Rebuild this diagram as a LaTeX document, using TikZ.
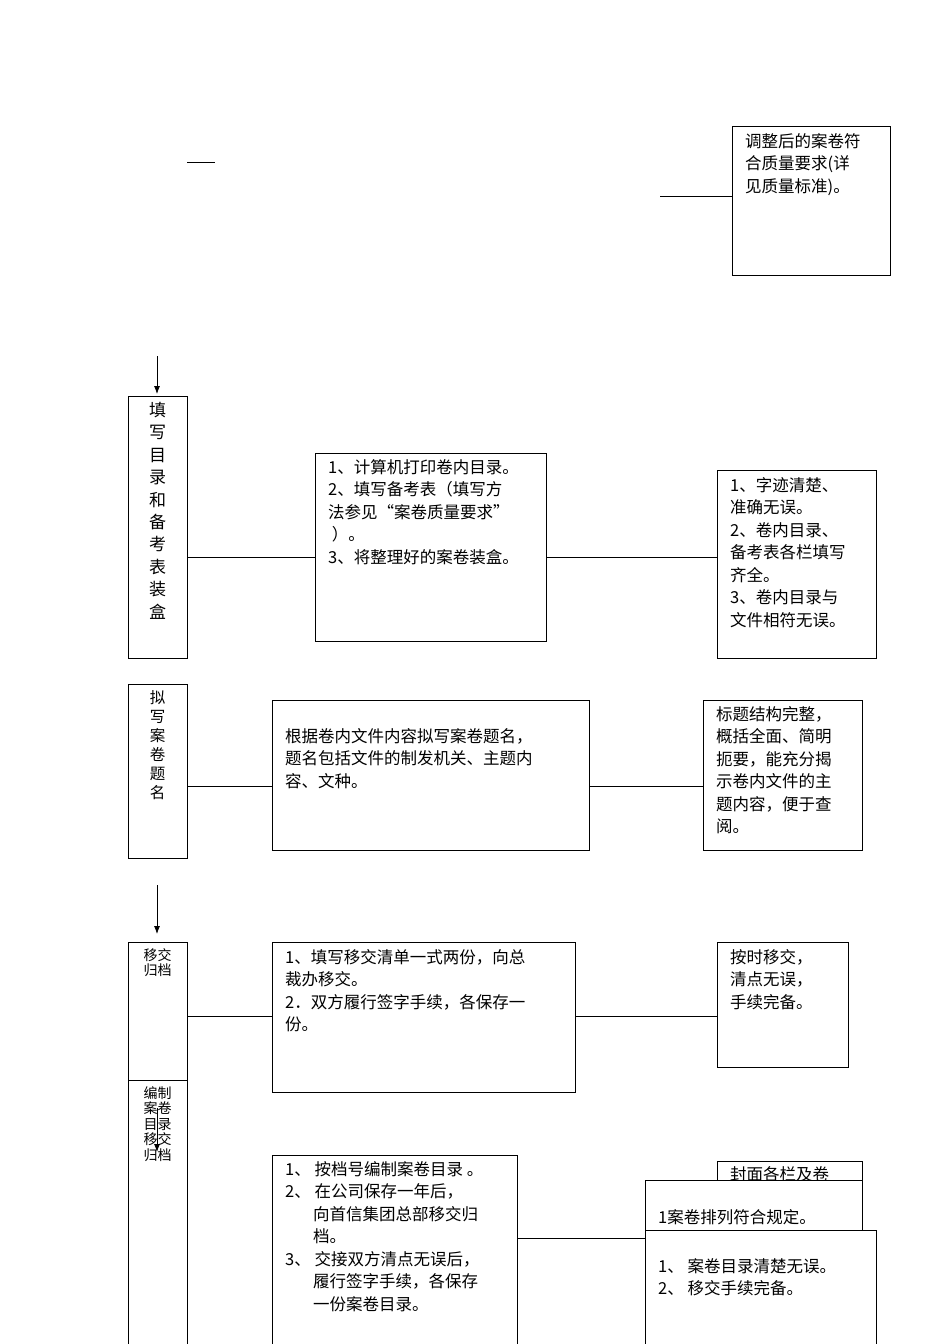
\documentclass[tikz,border=0pt]{standalone}
\usepackage{fontspec}
\newfontfamily\cjk{Noto Sans CJK SC}
\usetikzlibrary{arrows.meta}
\begin{document}
\begin{tikzpicture}[x=1pt,y=-1pt,
  bx/.style={draw,line width=1pt,fill=white},
  txt/.style={anchor=north west,align=left,inner sep=0pt,font=\cjk\fontsize{16.5}{22.5}\selectfont},
  sm/.style={anchor=north,align=center,inner sep=0pt,font=\cjk\fontsize{14}{15.5}\selectfont},
  ln/.style={line width=0.8pt},
  arr/.style={line width=0.8pt,-{Latex[length=8pt,width=6pt]}}]
\useasboundingbox (0,0) rectangle (950,1344);
% top
\draw[bx] (732,126) rectangle (890,275);
\node[txt] (t0) at (745,133) {调整后的案卷符\\合质量要求(详\\见质量标准)。};
\coordinate (a0) at (660,196); \coordinate (a1) at (732,196);
\draw[ln] (a0) -- (a1);
\coordinate (s0) at (187,162); \coordinate (s1) at (215,162);
\draw[ln] (s0) -- (s1);
\coordinate (r0) at (157,356); \coordinate (r1) at (157,394);
\draw[arr] (r0) -- (r1);
% row 1
\draw[bx] (128,396) rectangle (187,658);
\node[anchor=north,align=center,inner sep=0pt,font=\cjk\fontsize{17}{22.4}\selectfont] (l1) at (157.5,402) {填\\写\\目\\录\\和\\备\\考\\表\\装\\盒};
\draw[bx] (315,453) rectangle (546,641);
\node[txt] (m1) at (328,459) {1、计算机打印卷内目录。\\2、填写备考表（填写方\\法参见“案卷质量要求”\\\ ）。\\3、将整理好的案卷装盒。};
\draw[bx] (717,470) rectangle (876,658);
\node[txt] (q1) at (730,477) {1、字迹清楚、\\准确无误。\\2、卷内目录、\\备考表各栏填写\\齐全。\\3、卷内目录与\\文件相符无误。};
\draw[ln] (187,557) -- (315,557);
\draw[ln] (546,557) -- (717,557);
% row 2
\draw[bx] (128,684) rectangle (187,858);
\node[anchor=north,align=center,inner sep=0pt,font=\cjk\fontsize{15.5}{19}\selectfont] (l2) at (157.5,690) {拟\\写\\案\\卷\\题\\名};
\draw[bx] (272,700) rectangle (589,850);
\node[txt] (m2) at (285,728) {根据卷内文件内容拟写案卷题名，\\题名包括文件的制发机关、主题内\\容、文种。};
\draw[bx] (703,700) rectangle (862,850);
\node[txt] (q2) at (716,706) {标题结构完整，\\概括全面、简明\\扼要，能充分揭\\示卷内文件的主\\题内容，便于查\\阅。};
\draw[ln] (187,786) -- (272,786);
\draw[ln] (589,786) -- (703,786);
\coordinate (r2) at (157,885); \coordinate (r3) at (157,934);
\draw[arr] (r2) -- (r3);
% row 3
\draw[bx] (128,942) rectangle (187,1080);
\node[sm] (l3) at (157.5,948) {移交\\归档};
\draw[bx] (272,942) rectangle (575,1092);
\node[txt] (m3) at (285,949) {1、填写移交清单一式两份，向总\\裁办移交。\\2．双方履行签字手续，各保存一\\份。};
\draw[bx] (717,942) rectangle (848,1067);
\node[txt] (q3) at (730,949) {按时移交，\\清点无误，\\手续完备。};
\draw[ln] (187,1016) -- (272,1016);
\draw[ln] (575,1016) -- (717,1016);
% row 4
\draw[bx] (128,1080) rectangle (187,1350);
\node[sm] (l4) at (157.5,1086) {编制\\案卷\\目录\\移交\\归档};
\coordinate (r4) at (157,1108); \coordinate (r5) at (157,1152);
\draw[arr] (r4) -- (r5);
\draw[bx] (272,1155) rectangle (517,1350);
\node[txt] (m4) at (285,1161) {1、 按档号编制案卷目录 。\\2、 在公司保存一年后，\\\hspace*{28pt}向首信集团总部移交归\\\hspace*{28pt}档。\\3、 交接双方清点无误后，\\\hspace*{28pt}履行签字手续，各保存\\\hspace*{28pt}一份案卷目录。};
\draw[ln] (517,1238) -- (645,1238);
\draw[bx] (717,1161) rectangle (862,1350);
\node[txt] (q4) at (730,1166) {封面各栏及卷};
\draw[bx] (645,1180) rectangle (862,1350);
\node[txt] (q5) at (658,1209) {1案卷排列符合规定。};
\draw[bx] (645,1230) rectangle (876,1350);
\node[txt] (q6) at (658,1258) {1、 案卷目录清楚无误。\\2、 移交手续完备。};
\end{tikzpicture}
\end{document}
